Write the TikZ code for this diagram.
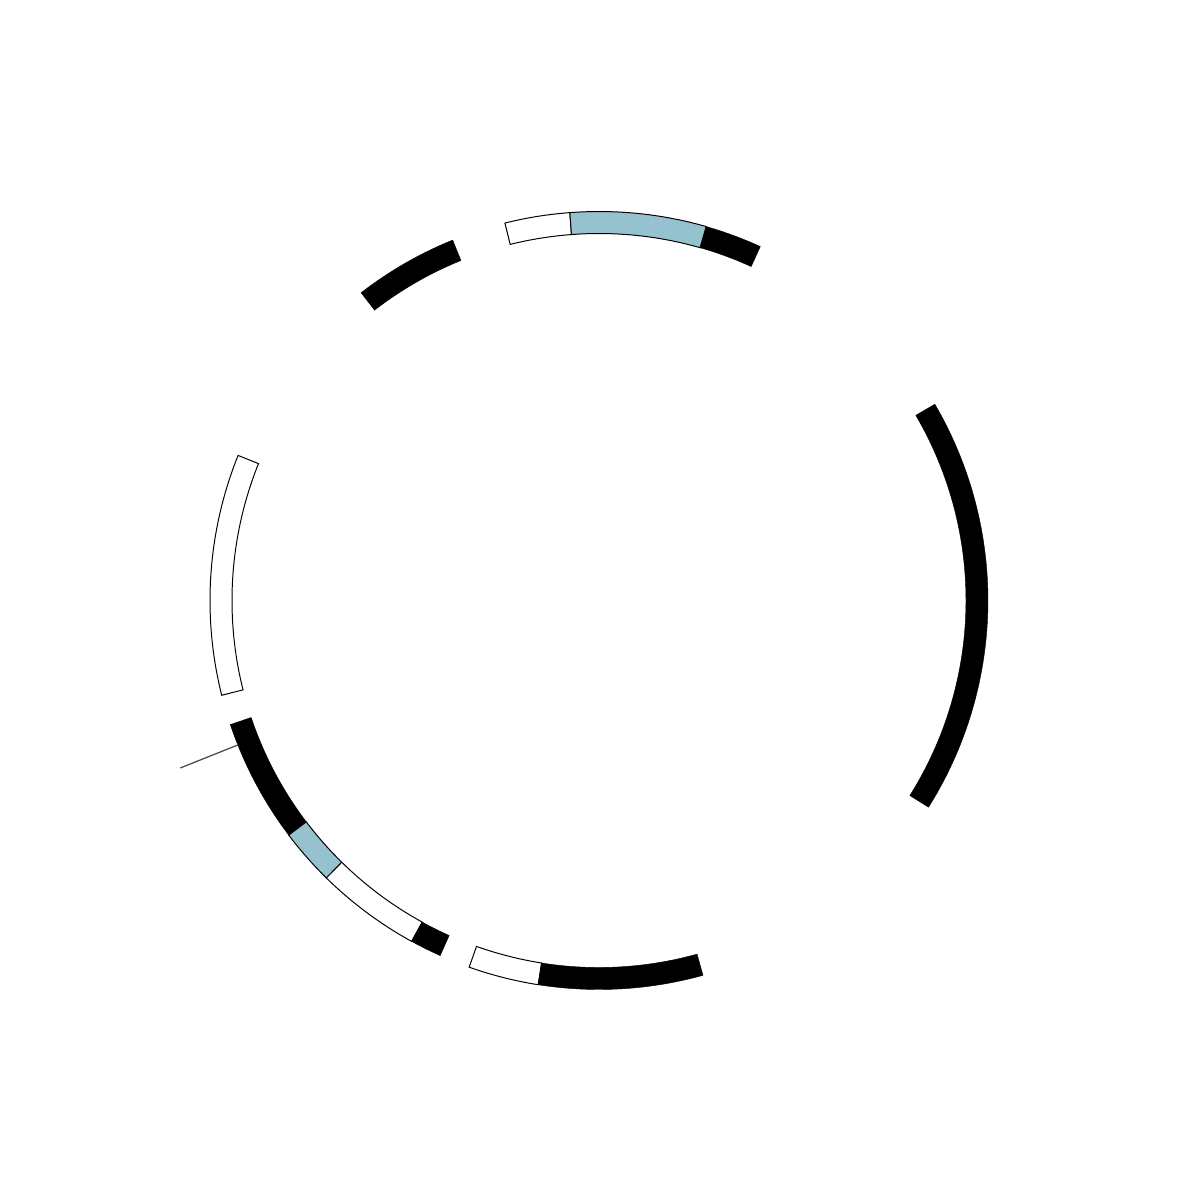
\documentclass[tikz,border=0pt]{standalone}
\definecolor{segblue}{RGB}{150,193,206}
\newcommand\ringseg[3]{%
  \path[#1] (#2:367) arc[start angle=#2,end angle=#3,radius=367] -- (#3:389) arc[start angle=#3,end angle=#2,radius=389] -- cycle;}
\tikzset{
  blackseg/.style={fill=black,draw=black,line width=0.3pt},
  whiteseg/.style={fill=white,draw=black,line width=0.7pt},
  blueseg/.style={fill=segblue,draw=black,line width=0.7pt},
  tick/.style={draw=black!70,line width=0.9pt}
}
\begin{document}
\begin{tikzpicture}[x=0.25mm,y=0.25mm]
\fill[white] (-599,-599.5) rectangle (601,600.5);
\useasboundingbox (-599,-599.5) rectangle (601,600.5);
% top group
\ringseg{whiteseg}{94.3}{104.0}
\ringseg{blueseg}{74.0}{94.3}
\ringseg{blackseg}{65.5}{74.0}
% top-left
\ringseg{blackseg}{112.1}{127.7}
% left
\ringseg{whiteseg}{158.1}{194.1}
% lower-left group
\ringseg{blackseg}{198.6}{217.1}
\ringseg{blueseg}{217.1}{225.5}
\ringseg{whiteseg}{225.5}{241.2}
\ringseg{blackseg}{241.2}{245.9}
% bottom
\ringseg{whiteseg}{250.5}{261.0}
\ringseg{blackseg}{261.0}{285.5}
% right
\ringseg{blackseg}{-32.1}{30.3}
% radial mark
\coordinate (m1) at (201.8:389);
\coordinate (m2) at (201.8:451);
\draw[tick] (m1) -- (m2);
\end{tikzpicture}
\end{document}
